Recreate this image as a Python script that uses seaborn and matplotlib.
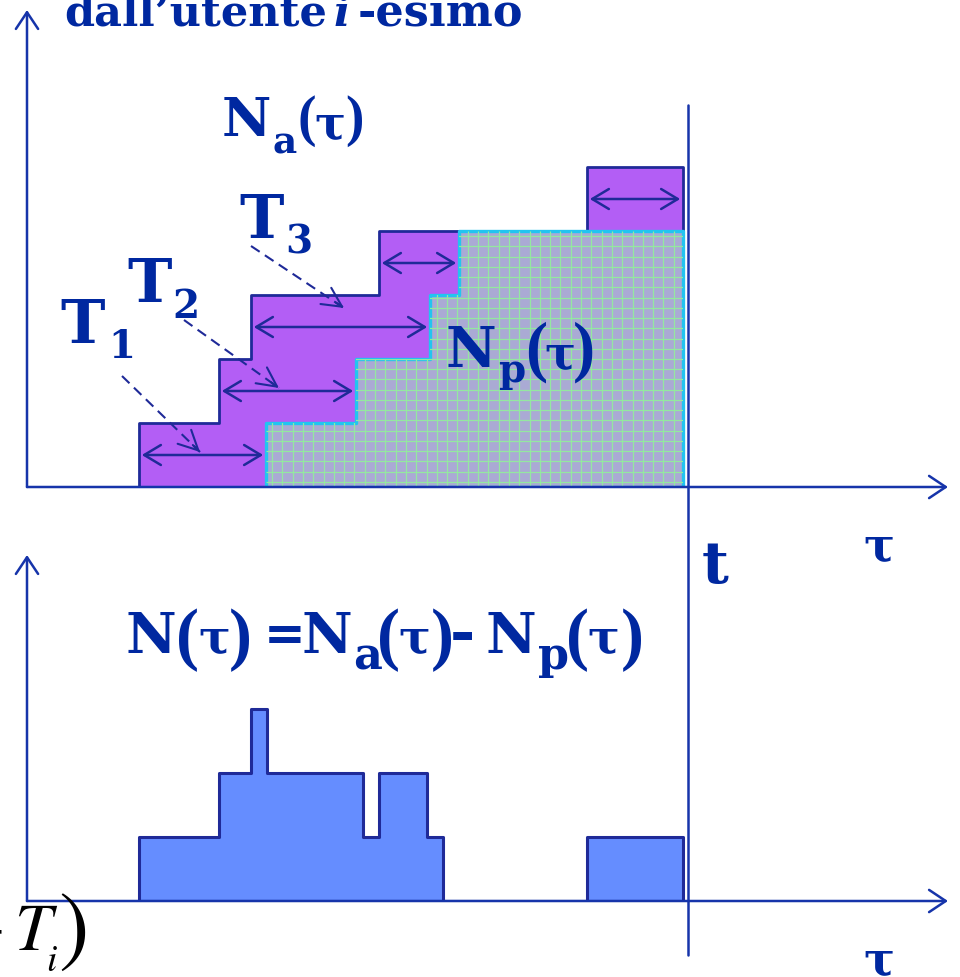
import numpy as np
import pandas as pd
import seaborn as sns
import matplotlib
matplotlib.use("Agg")
import matplotlib.pyplot as plt
from matplotlib.transforms import blended_transform_factory

# ---- data (time in arbitrary units, counts in customers) ----
arrivals = [11.2, 19.2, 22.4, 35.2, 56.0]      # arrival instants of customers 1..5
departures = [23.9, 32.9, 40.3, 43.2]          # departure instants of customers 1..4
t_end = 65.6                                   # end of the observed window
t_obs = 66.1                                   # observation instant t

# N(tau) = Na(tau) - Np(tau) as drawn in the lower panel
n_edges = [11.2, 19.2, 22.4, 24.0, 33.6, 35.2, 40.0, 41.6, 56.0, 65.6]
n_counts = [1, 2, 3, 2, 1, 2, 1, 0, 1]

# time spent in the system by each customer (start, end)
stay_start = arrivals
stay_end = departures + [t_end]

# ---- styling ----
PURPLE = "#b35ef5"
NAVY = "#1f2a98"
AXIS = "#1634aa"
CYAN = "#22c4f0"
GREY = "#aaaad4"
GRID = "#94e8a0"
BLUE = "#658dff"
TEXT = "#0028a0"

sns.set_theme(style="white")
plt.rcParams["font.family"] = ["DejaVu Serif", "DejaVu Sans"]
plt.rcParams["mathtext.fontset"] = "stix"

W, H = 960, 977
fig = plt.figure(figsize=(W / 100, H / 100), dpi=100)
fig.patch.set_facecolor("white")

top = fig.add_axes([27 / W, (H - 487) / H, 921 / W, 477 / H])
bot = fig.add_axes([27 / W, (H - 901) / H, 921 / W, 346 / H])
over = fig.add_axes([0, 0, 1, 1])
over.set_xlim(0, W)
over.set_ylim(H, 0)
over.axis("off")
over.patch.set_visible(False)

# cumulative arrivals Na(tau)
sns.histplot(x=arrivals, bins=arrivals + [t_end], cumulative=True,
             element="step", fill=True, color=PURPLE,
             facecolor=PURPLE, edgecolor=NAVY, linewidth=2.0, ax=top)
# cumulative departures Np(tau)
sns.histplot(x=departures, bins=departures + [t_end], cumulative=True,
             element="step", fill=True, color=GREY,
             facecolor=GREY, edgecolor=CYAN, linewidth=2.4, ax=top)
np_poly = top.collections[-1]

# fine grid texture inside the departures area
gx = np.arange(departures[0] + 0.6, t_end, 1.03)
gy = np.arange(0.08, len(departures), 0.16)
vl = top.vlines(gx, 0, len(departures), color=GRID, lw=0.9, zorder=np_poly.get_zorder() + 0.1)
hl = top.hlines(gy, departures[0], t_end, color=GRID, lw=0.9, zorder=np_poly.get_zorder() + 0.1)
for coll in (vl, hl):
    coll.set_clip_path(np_poly.get_paths()[0], np_poly.get_transform())

# number of customers in the system N(tau)
sns.histplot(x=n_edges[:-1], weights=n_counts, bins=n_edges,
             element="step", fill=True, color=BLUE,
             facecolor=BLUE, edgecolor=NAVY, linewidth=2.2, ax=bot)

top.set_xlim(0, 92.1)
top.set_ylim(0, 477 / 64)
bot.set_xlim(0, 92.1)
bot.set_ylim(0, 346 / 64)

for a in (top, bot):
    a.axis("off")
    for end in [(0, 1), (1, 0)]:
        a.annotate("", xy=end, xytext=(0, 0), xycoords="axes fraction",
                   annotation_clip=False,
                   arrowprops=dict(arrowstyle="->,head_length=0.6,head_width=0.4",
                                   color=AXIS, lw=1.8, mutation_scale=20,
                                   shrinkA=0, shrinkB=0), zorder=10)

# double arrows: time in system of each customer
for i, (s, e) in enumerate(zip(stay_start, stay_end)):
    top.annotate("", xy=(e, i + 0.5), xytext=(s, i + 0.5),
                 arrowprops=dict(arrowstyle="<->,head_length=0.6,head_width=0.36",
                                 color=NAVY, lw=1.8, mutation_scale=20,
                                 shrinkA=2, shrinkB=2), zorder=6)

# observation instant t
trans = blended_transform_factory(top.transData, over.transData)
over.plot([t_obs, t_obs], [105, 955], transform=trans, color=AXIS, lw=1.8, zorder=8)

# dashed pointers from the T labels
pointers = [((122, 376), (200, 452)), ((184, 320), (279, 388)), ((251, 246), (344, 308))]
for (x0, y0), (x1, y1) in pointers:
    over.plot([x0, x1], [y0, y1], color=NAVY, lw=1.5, dashes=(5, 3), zorder=7)
    dx, dy = x1 - x0, y1 - y0
    L = np.hypot(dx, dy)
    over.annotate("", xy=(x1, y1), xytext=(x1 - dx / L * 10, y1 - dy / L * 10),
                  arrowprops=dict(arrowstyle="->,head_length=0.7,head_width=0.35",
                                  color=NAVY, lw=1.5, mutation_scale=20,
                                  shrinkA=0, shrinkB=0), zorder=7)


def glyphs(items, color=TEXT, weight="bold", style="normal", family=None):
    """Place text pieces given as (left x, baseline y, text, size)."""
    for x, y, s, size in items:
        kw = dict(fontsize=size, fontweight=weight, fontstyle=style, color=color,
                  ha="left", va="baseline", zorder=12)
        if family:
            kw["family"] = family
        over.text(x, y, s, **kw)


TAU = "\u03c4"
PAREN = ["Liberation Serif", "DejaVu Serif"]

# title line (partly above the frame)
glyphs([(64, 26, "dall\u2019utente", 31), (358, 26, "-esimo", 32)])
glyphs([(334, 26, "i", 31)], style="italic")

# Na(tau)
glyphs([(222, 137, "N", 39), (272, 153, "a", 27), (314, 139, TAU, 33)])
glyphs([(298, 135, "(", 40), (345, 135, ")", 40)], family=PAREN)

# Np(tau)
glyphs([(446, 367, "N", 40), (498, 382, "p", 28), (544, 369, TAU, 33)])
glyphs([(525, 369, "(", 48), (573, 369, ")", 48)], family=PAREN)

# T labels
glyphs([(60, 343, "T", 43), (108, 358, "1", 28),
        (127, 302, "T", 43), (172, 318, "2", 28),
        (239, 238, "T", 43), (285, 254, "3", 28)])

# t and tau axis labels
glyphs([(702, 583, "t", 42)])
glyphs([(863, 561, TAU, 33), (863, 975, TAU, 33)])

# N(tau) = Na(tau) - Np(tau)
glyphs([(125, 653, "N", 40), (198, 653, TAU, 34),
        (264, 650, "=", 36),
        (302, 653, "N", 40), (353, 670, "a", 32), (398, 653, TAU, 34),
        (450, 653, "-", 44),
        (486, 653, "N", 40), (538, 669, "p", 32), (587, 653, TAU, 34)])
glyphs([(176, 657, "(", 50), (229, 657, ")", 50),
        (377, 657, "(", 50), (431, 657, ")", 50),
        (566, 657, "(", 50), (621, 657, ")", 50)], family=PAREN)

# fragment of the formula at the lower left
over.text(4, 932, "\u2212", fontsize=40, color="black", ha="right", va="center",
          family="STIXGeneral", zorder=12)
over.text(14, 950, "T", fontsize=48, color="black", ha="left", va="baseline",
          family="STIXGeneral", fontstyle="italic", zorder=12)
over.text(46, 971, "i", fontsize=27, color="black", ha="left", va="baseline",
          family="STIXGeneral", fontstyle="italic", zorder=12)
over.text(89, 934, ")", fontsize=66, color="black", ha="right", va="center",
          family="STIXGeneral", zorder=12)

fig.savefig("out.png", dpi=100, facecolor="white")
